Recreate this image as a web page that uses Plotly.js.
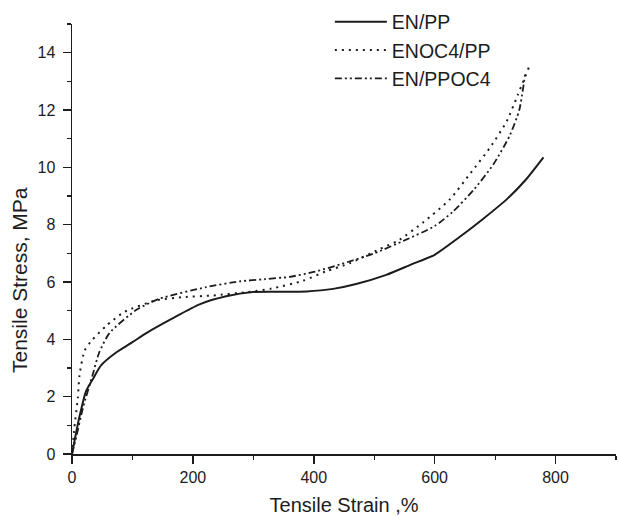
<!DOCTYPE html>
<html>
<head>
<meta charset="utf-8">
<script src="https://cdn.plot.ly/plotly-3.0.1.min.js"></script>
<style>html,body{margin:0;padding:0;background:#fff;}#chart{width:619px;height:516px;}</style>
</head>
<body>
<div id="chart"></div>
<script>
// EN/PP (solid)
const enppStrain = [0, 5, 12, 23, 35, 48, 73, 100, 123, 167, 211, 255, 299, 340, 388, 432, 470, 520, 560, 600, 640, 680, 720, 750, 780];
const enppStress = [0, 0.55, 1.27, 2.18, 2.63, 3.09, 3.54, 3.9, 4.22, 4.74, 5.22, 5.5, 5.65, 5.66, 5.67, 5.76, 5.93, 6.25, 6.6, 6.95, 7.55, 8.2, 8.9, 9.55, 10.35];
// ENOC4/PP (dotted)
const enoc4Strain = [0, 4, 9.6, 12.4, 20.7, 31.8, 56.6, 87, 139, 183, 233, 290, 330, 382, 421, 459, 509, 540, 581, 625, 659, 692, 719, 737, 756];
const enoc4Stress = [0, 0.93, 1.95, 2.75, 3.6, 3.94, 4.47, 4.96, 5.36, 5.47, 5.53, 5.65, 5.77, 6.04, 6.38, 6.65, 7.15, 7.45, 8.08, 8.88, 9.79, 10.7, 11.6, 12.5, 13.5];
// EN/PPOC4 (dash-dot-dot)
const ppoc4Strain = [0, 7, 18, 34, 45, 62, 106, 145, 222, 277, 320, 360, 400, 443, 500, 550, 600, 630, 664, 697, 724, 740, 750];
const ppoc4Stress = [0, 0.59, 1.6, 2.75, 3.54, 4.22, 5.02, 5.42, 5.82, 6.02, 6.1, 6.18, 6.35, 6.61, 7.0, 7.45, 7.95, 8.45, 9.2, 10.1, 11.1, 12.0, 13.3];

const seriesNames = ["EN/PP", "ENOC4/PP", "EN/PPOC4"];
const xTickVals = [0, 200, 400, 600, 800];
const yTickVals = [0, 2, 4, 6, 8, 10, 12, 14];

const ink = "#1c1c1c";
const fontFam = "Liberation Sans, Arial, Helvetica, sans-serif";

const traces = [
  {x: enppStrain, y: enppStress, name: seriesNames[0], mode: "lines",
   line: {color: ink, width: 2, dash: "solid", shape: "spline", smoothing: 0.6}},
  {x: enoc4Strain, y: enoc4Stress, name: seriesNames[1], mode: "lines",
   line: {color: ink, width: 2, dash: "2px,5px", shape: "spline", smoothing: 0.6}},
  {x: ppoc4Strain, y: ppoc4Stress, name: seriesNames[2], mode: "lines",
   line: {color: ink, width: 1.8, dash: "7px,3px,2px,3px,2px,3px", shape: "spline", smoothing: 0.6}}
];

const layout = {
  width: 619, height: 516,
  margin: {l: 72, r: 3, t: 14, b: 62},
  paper_bgcolor: "#fff", plot_bgcolor: "#fff",
  font: {family: fontFam, color: ink, size: 16},
  showlegend: true,
  legend: {x: 0.474, xanchor: "left", y: 1.05, yanchor: "top",
           bgcolor: "rgba(0,0,0,0)", font: {size: 19.5, color: ink},
           itemwidth: 52, tracegroupgap: 0},
  xaxis: {range: [0, 900], tickvals: xTickVals, ticks: "outside", ticklen: 8, tickwidth: 1.5,
          tickcolor: ink, showline: true, linecolor: ink, linewidth: 1.5,
          showgrid: false, zeroline: false, tickfont: {size: 16},
          minor: {dtick: 100, tick0: 0, ticks: "outside", ticklen: 4, tickwidth: 1.2, tickcolor: ink, showgrid: false},
          title: {text: "Tensile Strain ,%", font: {size: 20}, standoff: 18}},
  yaxis: {range: [0, 15], tickvals: yTickVals, ticks: "outside", ticklen: 8, tickwidth: 1.5,
          tickcolor: ink, showline: true, linecolor: ink, linewidth: 1.5,
          showgrid: false, zeroline: false, tickfont: {size: 16}, ticklabelstandoff: 4,
          minor: {dtick: 1, tick0: 0, ticks: "outside", ticklen: 4, tickwidth: 1.2, tickcolor: ink, showgrid: false}},
  annotations: [{
    text: "Tensile Stress, MPa", textangle: -90, showarrow: false,
    xref: "paper", yref: "paper", x: (19 - 72) / 544, y: (454 - 276) / 440,
    xanchor: "center", yanchor: "middle", font: {size: 21, color: ink}
  }]
};

Plotly.newPlot("chart", traces, layout, {staticPlot: true, displayModeBar: false});
</script>
</body>
</html>
